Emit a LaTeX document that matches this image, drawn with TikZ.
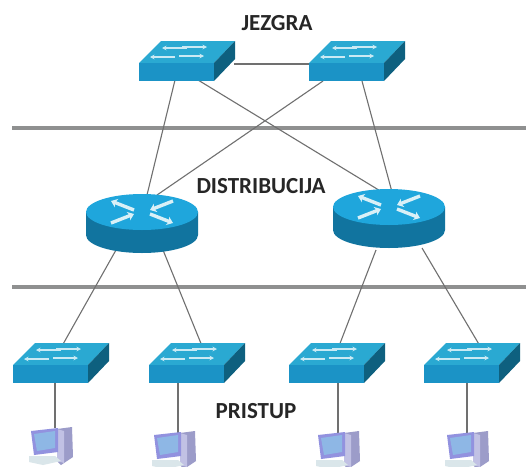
\documentclass[tikz,border=0pt]{standalone}
\usepackage{fontspec}
\setmainfont{Carlito}
\usetikzlibrary{arrows.meta}
\definecolor{swfront}{HTML}{1B93C6}
\definecolor{swtop}{HTML}{2AA9D2}
\definecolor{swside}{HTML}{0E607F}
\definecolor{rttop}{HTML}{1FA6DC}
\definecolor{rtbody}{HTML}{11749F}
\definecolor{barc}{HTML}{8F9090}
\definecolor{linkc}{HTML}{707070}
\tikzset{
  link/.style={draw=linkc,line width=1.1pt},
  bar/.style={draw=barc,line width=4.5pt},
  lbl/.style={font=\bfseries\fontsize{23}{25}\selectfont,text=black!85,inner sep=0pt,anchor=base},
  arr/.style={draw=white!75!swtop,line width=1.4pt,-{Stealth[length=4.5pt,width=4.5pt]}},
  rarr/.style={draw=white!82!swtop,line width=3.4pt,-{Stealth[length=6pt,width=9pt]}},
  pics/switchbox/.style={code={
    \fill[swtop] (0,0) -- (22,-22) -- (96,-22) -- (75,0) -- cycle;
    \fill[swside] (75,0) -- (96,-22) -- (96,-4) -- (75,18) -- cycle;
    \fill[swfront] (0,0) rectangle (75,18);
    \draw[arr] (43,-16) -- (68,-16);
    \draw[arr] (48,-15) -- (23,-15);
    \draw[arr] (40,-7) -- (65,-7);
    \draw[arr] (36,-6) -- (11,-6);
  }},
  pics/routerbox/.style={code={
    \fill[rtbody] (-56,0) -- (-56,23) .. controls (-56,33) and (-31,41) .. (0,41) .. controls (31,41) and (56,33) .. (56,23) -- (56,0) -- cycle;
    \fill[rttop] (0,0) ellipse[x radius=56,y radius=18];
    \draw[rarr] (-8,-2) -- (-31,-11);
    \draw[rarr] (31,-11) -- (8,-2);
    \draw[rarr] (-31,11) -- (-8,2);
    \draw[rarr] (8,2) -- (31,11);
  }},
  pics/pcbox/.style={code={
    \fill[blue!30!gray!60!white] (2,2) -- (17,0) -- (18,30) -- (6,38) -- (2,34) -- cycle;
    \fill[blue!40!gray!35!white] (2,2) -- (9,4) -- (9,36) -- (2,34) -- cycle;
    \fill[cyan!30!gray!25!white] (-26,29) -- (0,29) -- (6,34) -- (-12,38) -- (-26,35) -- cycle;
    \fill[blue!55!gray!55!white] (-24,4) -- (3,1) -- (3,25) -- (-21,28) -- cycle;
    \fill[cyan!60!blue!45!white] (-21,7) -- (0,4) -- (0,21) -- (-18,24) -- cycle;
  }}
}
\begin{document}
\begin{tikzpicture}[x=1pt,y=-1pt]
\useasboundingbox (0,0) rectangle (526,466);
\fill[white] (0,0) rectangle (526,466);
\coordinate (barAl) at (12,128); \coordinate (barAr) at (526,128);
\coordinate (barBl) at (12,287); \coordinate (barBr) at (526,287);
\draw[bar] (barAl) -- (barAr);
\draw[bar] (barBl) -- (barBr);
\coordinate (coreLa) at (175,80); \coordinate (coreLb) at (198,80); \coordinate (coreLc) at (234,64);
\coordinate (coreRa) at (323,81); \coordinate (coreRb) at (362,81); \coordinate (coreRc) at (310,64);
\coordinate (rtLa) at (147,195); \coordinate (rtLb) at (157,195); \coordinate (rtLc) at (116,250); \coordinate (rtLd) at (163,250);
\coordinate (rtRa) at (382,192); \coordinate (rtRb) at (392,192); \coordinate (rtRc) at (376,250); \coordinate (rtRd) at (422,248);
\coordinate (acA) at (62,346); \coordinate (acB) at (202,346); \coordinate (acC) at (339,346); \coordinate (acD) at (480,346);
\coordinate (acAb) at (55,382); \coordinate (acBb) at (178,382); \coordinate (acCb) at (338,382); \coordinate (acDb) at (467,382);
\coordinate (pcA) at (55,428); \coordinate (pcB) at (178,433); \coordinate (pcC) at (338,433); \coordinate (pcD) at (467,433);
\draw[link] (coreLc) -- (coreRc);
\draw[link] (coreLa) -- (rtLa);
\draw[link] (coreLb) -- (rtRa);
\draw[link] (coreRa) -- (rtLb);
\draw[link] (coreRb) -- (rtRb);
\draw[link] (rtLc) -- (acA);
\draw[link] (rtLd) -- (acB);
\draw[link] (rtRc) -- (acC);
\draw[link] (rtRd) -- (acD);
\draw[link] (acAb) -- (pcA);
\draw[link] (acBb) -- (pcB);
\draw[link] (acCb) -- (pcC);
\draw[link] (acDb) -- (pcD);
\pic at (139,63) {switchbox};
\pic at (309,63) {switchbox};
\pic at (142,212) {routerbox};
\pic at (389,207) {routerbox};
\pic at (13,365) {switchbox};
\pic at (149,365) {switchbox};
\pic at (289,365) {switchbox};
\pic at (424,365) {switchbox};
\pic at (55,427) {pcbox};
\pic at (178,431) {pcbox};
\pic at (342,431) {pcbox};
\pic at (471,431) {pcbox};
\node[lbl] (jez) at (277,30) {JEZGRA};
\node[lbl] (dis) at (261,193) {DISTRIBUCIJA};
\node[lbl] (pri) at (256,418) {PRISTUP};
\end{tikzpicture}
\end{document}
